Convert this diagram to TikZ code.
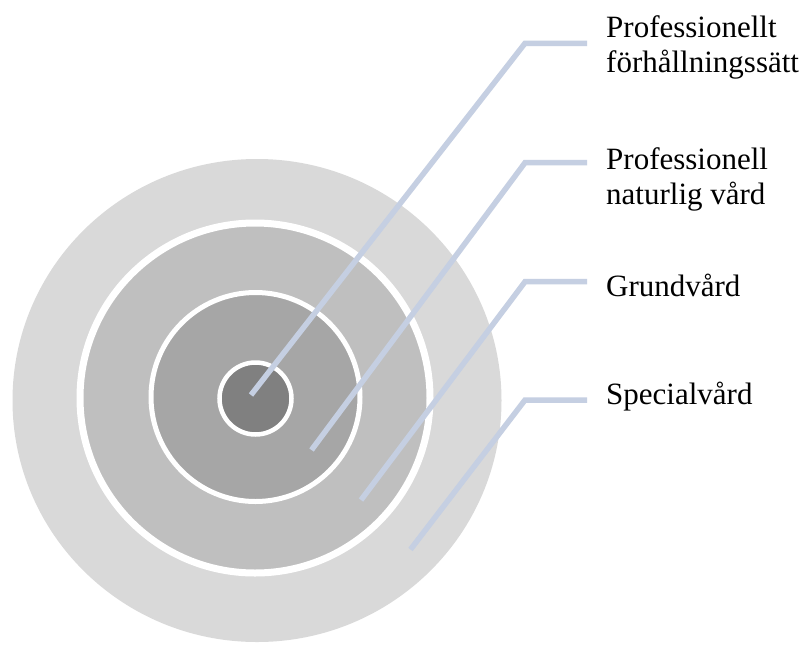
\documentclass[tikz,border=0pt]{standalone}
\usepackage{fontspec}
\setmainfont{Liberation Serif}
\definecolor{ringA}{HTML}{D9D9D9}
\definecolor{ringB}{HTML}{BFBFBF}
\definecolor{ringC}{HTML}{A6A6A6}
\definecolor{ringD}{HTML}{808080}
\definecolor{leader}{RGB}{197,207,226}
\begin{document}
\begin{tikzpicture}[x=1pt,y=-1pt,
  ring/.style={draw=white},
  leaderline/.style={draw=leader,line width=5.5pt,line join=miter},
  lbl/.style={anchor=base west,inner sep=0pt,font=\fontsize{31}{35}\selectfont}]
  \useasboundingbox[fill=white] (0,0) rectangle (806,646);

  % nested discs, outermost first
  \fill[ringA] (257,400.5) ellipse [x radius=244.5, y radius=241.5];
  \filldraw[ringB,ring,line width=7pt] (255,398) circle [radius=175];
  \filldraw[ringC,ring,line width=5pt] (255.5,397) circle [radius=104.5];
  \filldraw[ringD,ring,line width=4.5pt] (255.5,398.5) circle [radius=36];

  % leader start points inside the rings
  \coordinate (s1) at (251,395);
  \coordinate (s2) at (311.5,450);
  \coordinate (s3) at (361,500);
  \coordinate (s4) at (410.5,549.5);
  % bends and free ends
  \coordinate (b1) at (525,43.3);
  \coordinate (b2) at (525,162.7);
  \coordinate (b3) at (525,281.7);
  \coordinate (b4) at (525,400);
  \coordinate (e1) at (587,43.3);
  \coordinate (e2) at (587,162.7);
  \coordinate (e3) at (587,281.7);
  \coordinate (e4) at (587,400);

  \draw[leaderline] (s1) -- (b1) -- (e1);
  \draw[leaderline] (s2) -- (b2) -- (e2);
  \draw[leaderline] (s3) -- (b3) -- (e3);
  \draw[leaderline] (s4) -- (b4) -- (e4);

  % labels
  \node[lbl] (t1) at (606,37.5) {\begin{tabular}[t]{@{}l@{}}Professionellt\\förhållningssätt\end{tabular}};
  \node[lbl] (t2) at (606,169.5) {\begin{tabular}[t]{@{}l@{}}Professionell\\naturlig vård\end{tabular}};
  \node[lbl] (t3) at (606,296) {Grundvård};
  \node[lbl] (t4) at (606,404) {Specialvård};
\end{tikzpicture}
\end{document}
